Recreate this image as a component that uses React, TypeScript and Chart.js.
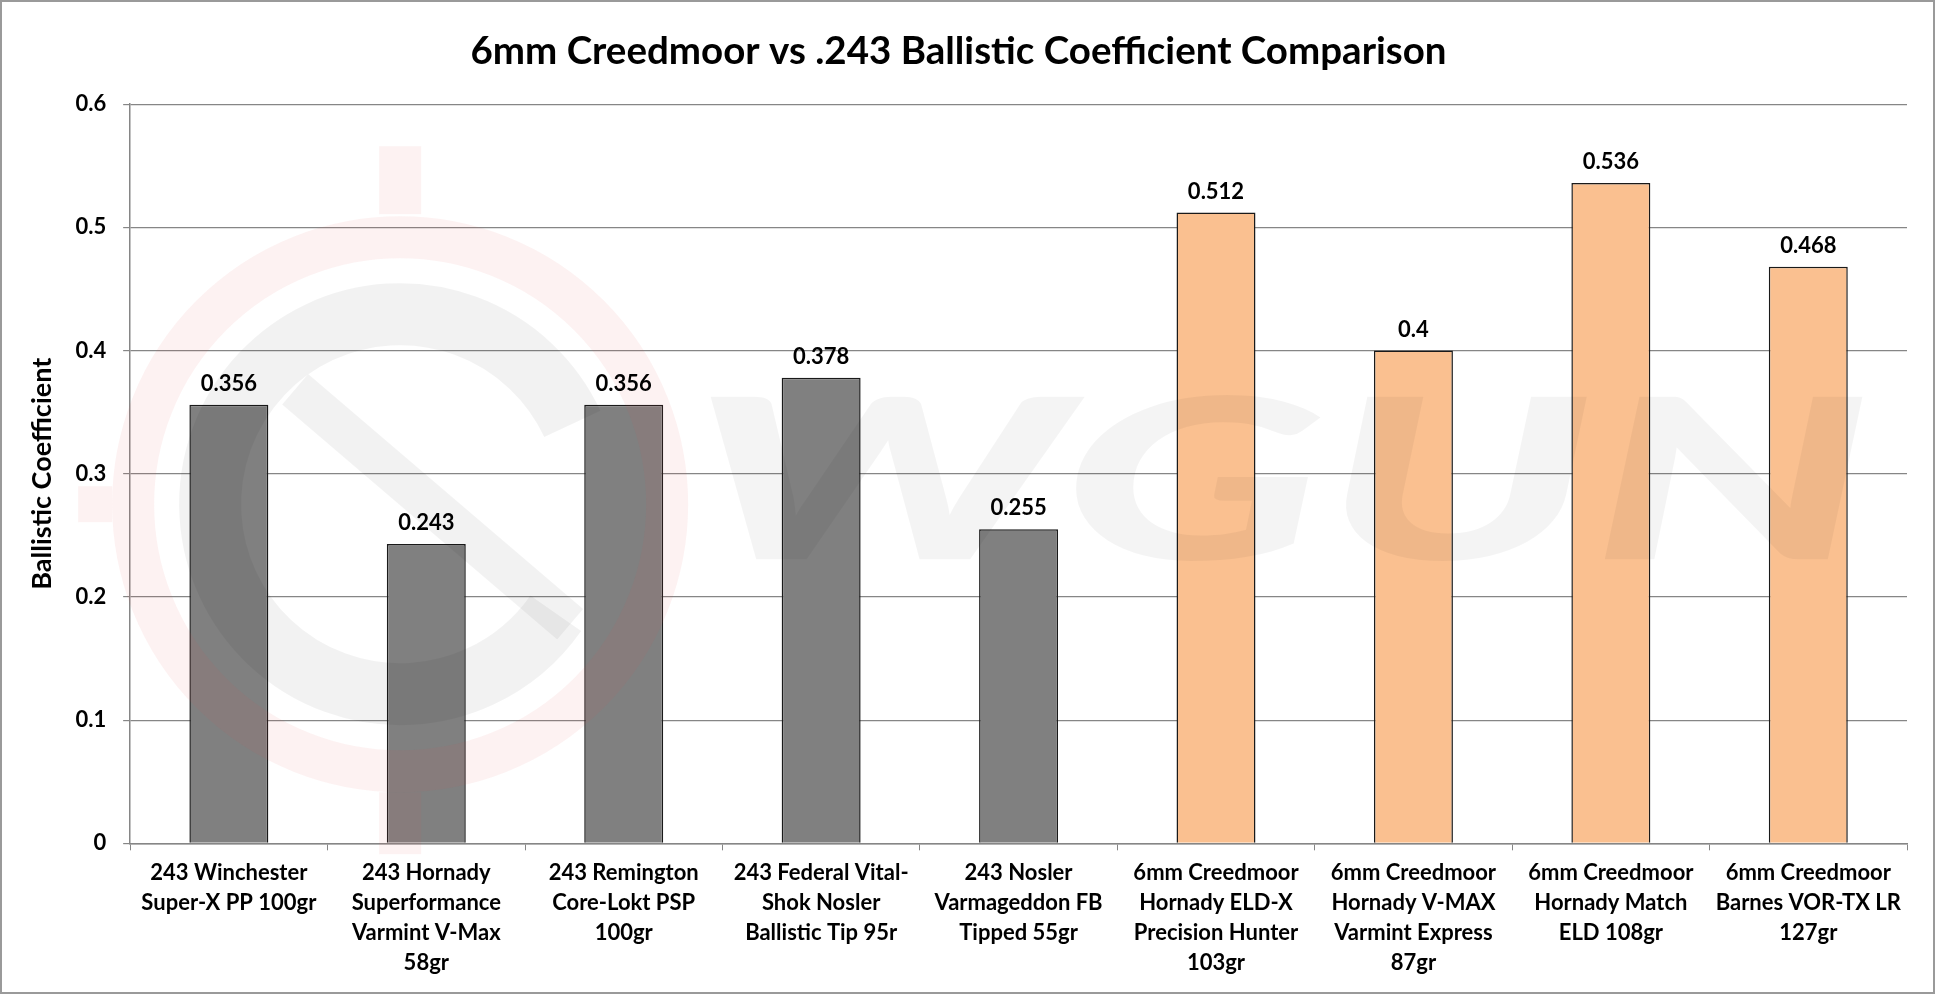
import React, { useEffect, useRef } from "react";
import { Chart, registerables } from "chart.js";

Chart.register(...registerables);

const categories: string[][] = [
  ["243 Winchester", "Super-X PP 100gr"],
  ["243 Hornady", "Superformance", "Varmint V-Max", "58gr"],
  ["243 Remington", "Core-Lokt PSP", "100gr"],
  ["243 Federal Vital-", "Shok Nosler", "Ballistic Tip 95r"],
  ["243 Nosler", "Varmageddon FB", "Tipped 55gr"],
  ["6mm Creedmoor", "Hornady ELD-X", "Precision Hunter", "103gr"],
  ["6mm Creedmoor", "Hornady V-MAX", "Varmint Express", "87gr"],
  ["6mm Creedmoor", "Hornady Match", "ELD 108gr"],
  ["6mm Creedmoor", "Barnes VOR-TX LR", "127gr"],
];
const ballisticCoefficient: number[] = [0.356, 0.243, 0.356, 0.378, 0.255, 0.512, 0.4, 0.536, 0.468];
const barColors: string[] = [
  "#808080", "#808080", "#808080", "#808080", "#808080",
  "#FAC090", "#FAC090", "#FAC090", "#FAC090",
];
const titleText = "6mm Creedmoor vs .243 Ballistic Coefficient Comparison";
const yAxisTitle = "Ballistic Coefficient";
const watermarkText = "WGUN";

const FONT = "Lato, 'Open Sans', sans-serif";

// faint background logo (decorative, not data)
const watermark = {
  id: "watermark",
  afterDatasetsDraw(chart: any) {
    const ctx = chart.ctx;
    const a = chart.chartArea;
    const cx = a.left + 270;
    const cy = a.top + 400;
    ctx.save();
    // pink ring + crosshair stubs
    ctx.strokeStyle = "rgba(225, 70, 70, 0.07)";
    ctx.fillStyle = "rgba(225, 70, 70, 0.07)";
    ctx.lineWidth = 42;
    ctx.beginPath();
    ctx.arc(cx, cy, 267, 0, Math.PI * 2);
    ctx.stroke();
    ctx.fillRect(cx - 21, cy - 358, 42, 68);
    ctx.fillRect(cx - 21, cy + 288, 42, 62);
    ctx.fillRect(cx - 322, cy - 18, 34, 36);
    // gray inner arc + diagonal
    ctx.strokeStyle = "rgba(0, 0, 0, 0.05)";
    ctx.lineWidth = 62;
    ctx.beginPath();
    ctx.arc(cx, cy, 190, (-25 * Math.PI) / 180, (35 * Math.PI) / 180, true);
    ctx.stroke();
    ctx.lineWidth = 40;
    ctx.beginPath();
    ctx.moveTo(cx - 105, cy - 115);
    ctx.lineTo(cx + 170, cy + 120);
    ctx.stroke();
    // big italic letters
    ctx.fillStyle = "rgba(0, 0, 0, 0.045)";
    ctx.font = `italic 900 200px ${FONT}`;
    ctx.textBaseline = "alphabetic";
    const w = ctx.measureText(watermarkText).width;
    const targetW = 1180;
    ctx.translate(a.left + 560, a.top + 455);
    ctx.scale(targetW / w, 1.12);
    ctx.fillText(watermarkText, 0, 0);
    ctx.restore();
  },
};

const valueLabels = {
  id: "valueLabels",
  afterDatasetsDraw(chart: any) {
    const ctx = chart.ctx;
    const meta = chart.getDatasetMeta(0);
    ctx.save();
    ctx.font = `bold 22px ${FONT}`;
    ctx.fillStyle = "#000";
    ctx.textAlign = "center";
    ctx.textBaseline = "bottom";
    meta.data.forEach((bar: any, i: number) => {
      ctx.fillText(String(ballisticCoefficient[i]), bar.x, bar.y - 10);
    });
    ctx.restore();
  },
};

const frame = {
  id: "frame",
  afterDraw(chart: any) {
    const ctx = chart.ctx;
    ctx.save();
    ctx.strokeStyle = "#9a9a9a";
    ctx.lineWidth = 2;
    ctx.strokeRect(1, 1, chart.width - 2, chart.height - 2);
    ctx.restore();
  },
};

export default function App() {
  const ref = useRef<HTMLCanvasElement>(null);
  useEffect(() => {
    document.body.style.margin = "0";
    const chart = new Chart(ref.current!, {
      type: "bar",
      data: {
        labels: categories,
        datasets: [
          {
            data: ballisticCoefficient,
            backgroundColor: barColors,
            borderColor: "#1a1a1a",
            borderWidth: 1.5,
            barPercentage: 0.4,
            categoryPercentage: 1,
          },
        ],
      },
      options: {
        animation: false,
        responsive: false,
        layout: { padding: { left: 10, right: 28, top: 0, bottom: 8 } },
        plugins: {
          legend: { display: false },
          tooltip: { enabled: false },
          title: {
            display: true,
            text: titleText,
            color: "#000",
            font: { family: FONT, size: 38.5, weight: "bold" },
            padding: { top: 28, bottom: 30 },
          },
        },
        scales: {
          x: {
            grid: {
              drawOnChartArea: false,
              drawTicks: true,
              tickLength: 7,
              color: "#868686",
              lineWidth: 1,
            },
            border: { color: "#868686", width: 1.5 },
            ticks: {
              color: "#000",
              font: { family: FONT, size: 22, weight: "bold", lineHeight: 1.36 },
              padding: 8,
              maxRotation: 0,
              autoSkip: false,
            },
          },
          y: {
            min: 0,
            max: 0.6,
            ticks: {
              stepSize: 0.1,
              color: "#000",
              font: { family: FONT, size: 22, weight: "bold" },
              padding: 17,
              callback: (v: any) => String(Math.round(Number(v) * 10) / 10),
            },
            grid: { color: "#868686", lineWidth: 1.2, tickLength: 7 },
            border: { color: "#868686", width: 1.5 },
            title: {
              display: true,
              text: yAxisTitle,
              color: "#000",
              font: { family: FONT, size: 27, weight: "bold" },
              padding: { top: 16, bottom: 0 },
            },
          },
        },
      },
      plugins: [watermark, valueLabels, frame],
    });
    return () => chart.destroy();
  }, []);
  return (
    <div style={{ width: 1935, height: 994, background: "#fff" }}>
      <canvas ref={ref} width={1935} height={994} style={{ display: "block" }} />
    </div>
  );
}
